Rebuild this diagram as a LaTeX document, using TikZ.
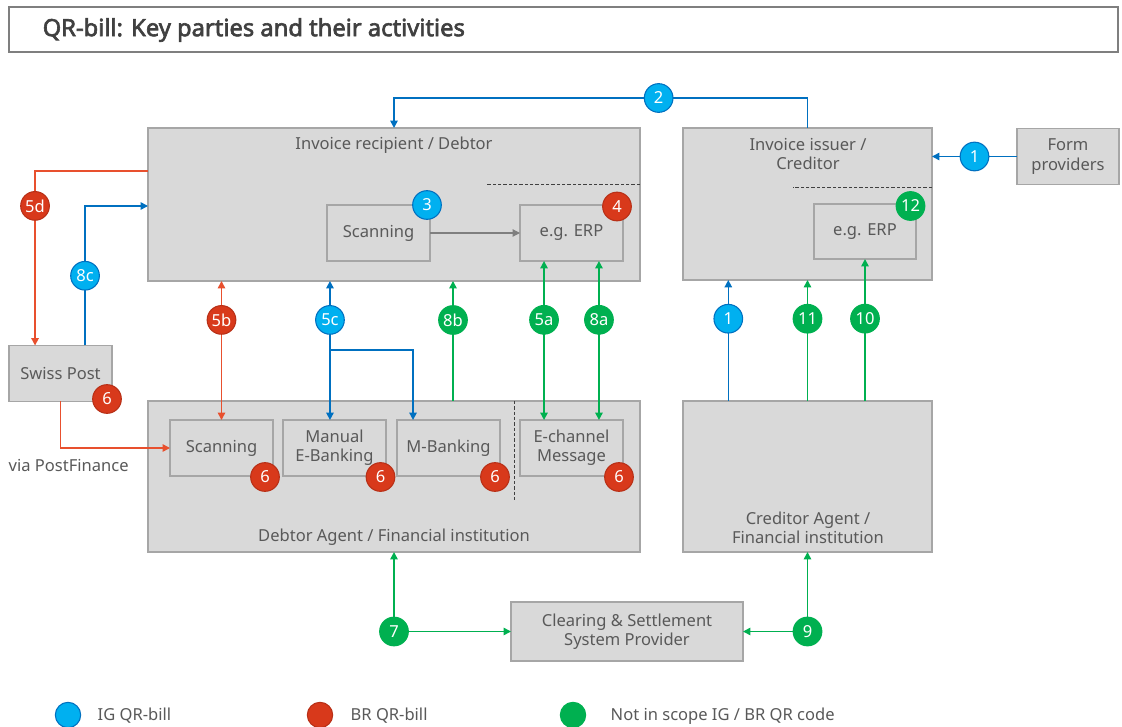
\documentclass[tikz,border=0pt]{standalone}
\usepackage{fontspec}
\setmainfont[AutoFakeBold=2.6]{Noto Sans}
\usetikzlibrary{positioning, arrows.meta}

\definecolor{boxfill}{HTML}{D9D9D9}
\definecolor{boxline}{HTML}{A6A6A6}
\definecolor{txtgray}{HTML}{595959}
\definecolor{titleline}{HTML}{7F7F7F}
\definecolor{titletxt}{HTML}{404040}
\definecolor{igfill}{HTML}{00B0F0}
\definecolor{igline}{HTML}{0070C0}
\definecolor{brfill}{HTML}{D8391B}
\definecolor{brline}{HTML}{E8502E}
\definecolor{nsgreen}{HTML}{00B050}

\begin{document}
\begin{tikzpicture}[
        x=0.75pt, y=-0.75pt,
        every node/.style={font=\fontsize{12.4}{14.5}\selectfont, text=txtgray},
        box/.style={draw=boxline, fill=boxfill, line width=1.2pt, inner sep=0pt, outer sep=0pt, align=center},
        subbox/.style={box, minimum width=77.25pt, minimum height=42pt},
        badge/.style={circle, line width=0.8pt, text=white, minimum size=21.5pt, inner sep=0pt},
        igbadge/.style={badge, fill=igfill, draw=igline},
        brbadge/.style={badge, fill=brfill, draw=brfill!85!black},
        nsbadge/.style={badge, fill=nsgreen, draw=nsgreen},
        >={Triangle[length=5.5pt, width=5.5pt]},
        igarrow/.style={draw=igline, line width=1.2pt},
        brarrow/.style={draw=brline, line width=1.2pt},
        nsarrow/.style={draw=nsgreen, line width=1.2pt},
        sepline/.style={draw=titletxt, line width=0.6pt, dash pattern=on 2.5pt off 1.5pt}
    ]
    \useasboundingbox (0,0) rectangle (1122,727);

    % title bar
    \node[draw=titleline, line width=0.9pt, minimum width=831.75pt, minimum height=33.75pt, inner sep=0pt] (title) at (563.5,29.5) {};
    \node[anchor=west, font=\fontsize{17.8}{20}\selectfont\bfseries, text=titletxt] (titletext) at (38,30) {QR-bill: Key parties and their activities};

    % debtor side
    \node[box, minimum width=369pt, minimum height=114.75pt] (debtor) at (394,204.5) {};
    \node (debtorlbl) at (394,145) {Invoice recipient / Debtor};
    \draw[sepline] (debtor.north east) ++(0,56) -- ++(-153,0);
    \node[subbox] (dscan) at (378.5,233) {Scanning};
    \node[subbox] (derp) at (571.5,233) {e.g. ERP};
    \draw[draw=titleline, line width=0.8pt, ->] (dscan.east) -- (derp.west);
    \node[igbadge] (b3) at (427,205) {3};
    \node[brbadge] (b4) at (617,206.5) {4};

    % creditor side
    \node[box, minimum width=186.75pt, minimum height=114pt] (creditor) at (807.5,204) {};
    \node[align=center] (creditorlbl) at (808,154) {Invoice issuer /\\Creditor};
    \draw[sepline] (creditor.north east) ++(0,59) -- ++(-139,0);
    \node[box, minimum width=76.5pt, minimum height=41.25pt] (cerp) at (865,231.5) {e.g. ERP};
    \node[nsbadge] (b12) at (910.5,206) {12};
    \node[box, minimum width=76.5pt, minimum height=42pt] (forms) at (1068,156.5) {Form\\providers};

    % post
    \node[subbox] (post) at (60.5,373.5) {Swiss Post};
    \node[brbadge] (b6post) at (107,399) {6};

    % debtor agent
    \node[box, minimum width=369pt, minimum height=113.25pt] (bank) at (394,476.5) {};
    \node (banklbl) at (394,537) {Debtor Agent / Financial institution};
    \node[subbox] (bscan) at (221.5,448) {Scanning};
    \node[subbox] (bman) at (334.5,448) {Manual\\E-Banking};
    \node[subbox] (bmob) at (448.5,448) {M-Banking};
    \node[subbox] (bmsg) at (571.5,448) {E-channel\\Message};
    \draw[sepline] (bank.north west) ++(366,0) -- ++(0,101);
    \node[brbadge] (b6scan) at (265,477) {6};
    \node[brbadge] (b6man) at (380.5,477) {6};
    \node[brbadge] (b6mob) at (495,477) {6};
    \node[brbadge] (b6msg) at (619,477) {6};

    % creditor agent and clearing
    \node[box, minimum width=186.75pt, minimum height=113.25pt] (cagent) at (807.5,476.5) {};
    \node[align=center] (cagentlbl) at (808,528) {Creditor Agent /\\Financial institution};
    \node[box, minimum width=174pt, minimum height=44.25pt] (csm) at (627,631.5) {Clearing \& Settlement\\System Provider};
    \node[nsbadge] (b7) at (394,631.5) {7};
    \node[nsbadge] (b9) at (807.5,631.5) {9};

    % flows
    \draw[igarrow, ->] (creditor.north) -- ++(0,-30) -| node[pos=0.18, igbadge] {2} (debtor.north);
    \draw[igarrow, ->] (forms.west) -- node[igbadge] {1} (forms.west -| creditor.east);
    \draw[brarrow, ->] ([yshift=-32.25pt]debtor.north west) -| node[pos=0.6, brbadge] {5d} ([xshift=-19.1pt]post.north);
    \draw[igarrow, ->] ([xshift=18.4pt]post.north) |- node[pos=0.25, igbadge] {8c} ([yshift=-58.5pt]debtor.north west);
    \draw[brarrow, ->] (post.south) |- (bscan.west);
    \node[anchor=west] (viapf) at (4,465) {via PostFinance};

    \draw[brarrow, <->] (debtor.south -| bscan.north) -- node[pos=0.28, brbadge] {5b} (bscan.north);
    \draw[igarrow, <->] ([xshift=-3.4pt]debtor.south -| bman.north) -- node[pos=0.28, igbadge] {5c} ([xshift=-3.4pt]bman.north);
    \draw[igarrow, ->] ([xshift=-3.4pt]bman.north) ++(0,-70) -| ([xshift=-26.6pt]bmob.north);
    \draw[nsarrow, ->] ([xshift=44.25pt]bank.north) -- node[pos=0.675, nsbadge] {8b} ([xshift=44.25pt]debtor.south);
    \draw[nsarrow, <->] ([xshift=-20.6pt]derp.south) -- node[pos=0.37, nsbadge] {5a} ([xshift=-20.6pt]bmsg.north);
    \draw[nsarrow, <->] ([xshift=20.6pt]derp.south) -- node[pos=0.37, nsbadge] {8a} ([xshift=20.6pt]bmsg.north);

    \draw[igarrow, ->] ([xshift=-59.4pt]cagent.north) -- node[pos=0.68, igbadge] {1} ([xshift=-59.4pt]creditor.south);
    \draw[nsarrow, ->] (cagent.north) -- node[pos=0.68, nsbadge] {11} (creditor.south);
    \draw[nsarrow, ->] (cagent.north -| cerp.south) -- node[pos=0.58, nsbadge] {10} (cerp.south);

    \draw[nsarrow, ->] (b7) -- (bank.south);
    \draw[nsarrow, ->] (b7) -- (b7 -| csm.west);
    \draw[nsarrow, ->] (b9) -- (cagent.south);
    \draw[nsarrow, ->] (b9) -- (b9 -| csm.east);

    % legend
    \node[igbadge, minimum size=19pt] (legig) at (68,715) {};
    \node[anchor=west] (legigtxt) at (93,716) {IG QR-bill};
    \node[brbadge, minimum size=19pt] (legbr) at (320,715) {};
    \node[anchor=west] (legbrtxt) at (346,716) {BR QR-bill};
    \node[nsbadge, minimum size=19pt] (legns) at (573,715) {};
    \node[anchor=west] (legnstxt) at (606,716) {Not in scope IG / BR QR code};
\end{tikzpicture}
\end{document}
